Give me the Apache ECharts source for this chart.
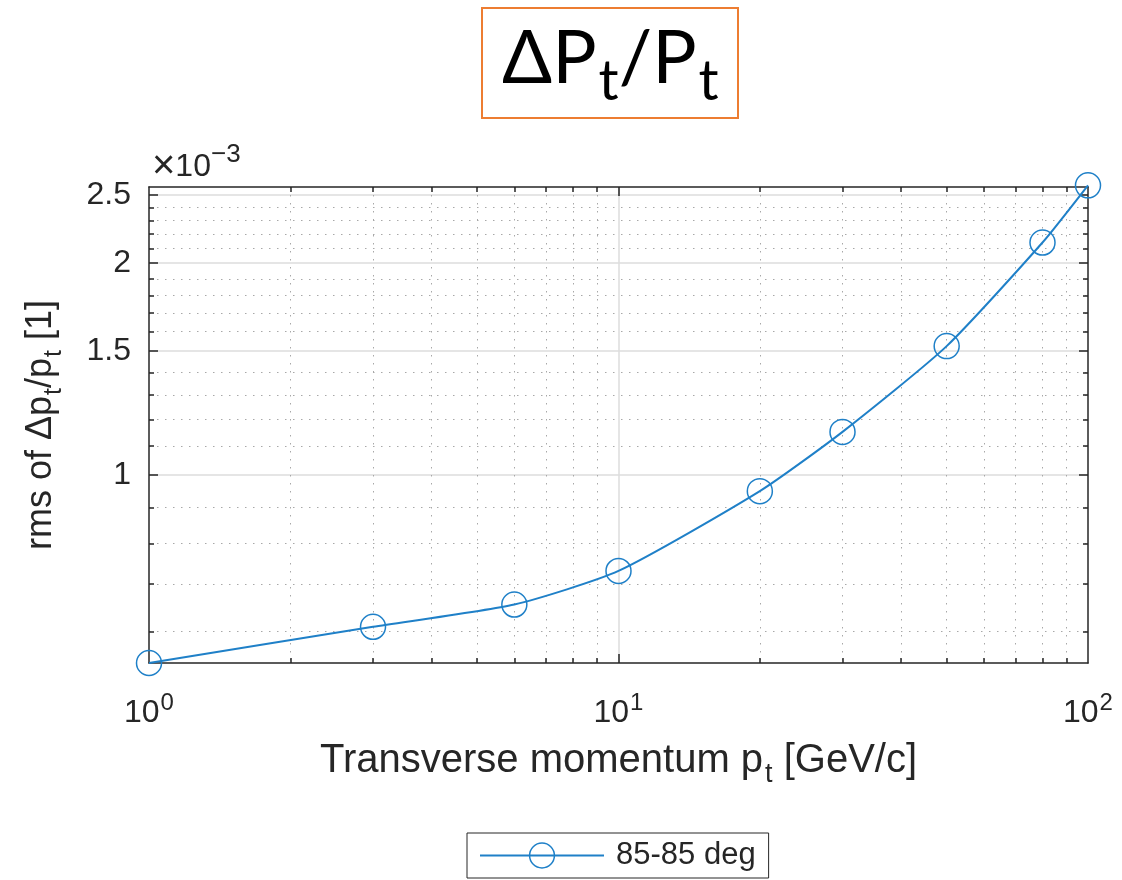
<!DOCTYPE html>
<html>
<head>
<meta charset="utf-8">
<title>dPt/Pt</title>
<script src="https://cdn.jsdelivr.net/npm/echarts@6/dist/echarts.min.js"></script>
<style>
  html, body { margin: 0; padding: 0; background: #fff; }
  #chart { width: 1122px; height: 880px; }
</style>
</head>
<body>
<div id="chart"></div>
<script>
'use strict';

// transverse momentum pt [GeV/c]
var momenta = [1, 3, 6, 10, 20, 30, 50, 80, 100];
// rms of dpt/pt, in units of 1e-3
var rmsValues = [0.541, 0.609, 0.655, 0.731, 0.949, 1.152, 1.525, 2.14, 2.58];
var seriesName = '85-85 deg';

// tick positions
var xLabelTicks = [1, 10, 100];
var xMajorTicks = [10];
var xMinorTicks = [2, 3, 4, 5, 6, 7, 8, 9, 20, 30, 40, 50, 60, 70, 80, 90];
var yMajorTicks = [1, 1.5, 2, 2.5];
var yMinorTicks = [0.6, 0.7, 0.8, 0.9, 1.1, 1.2, 1.3, 1.4, 1.6, 1.7, 1.8, 1.9, 2.1, 2.2, 2.3, 2.4];
var xRange = [1, 100];
var yRange = [0.541, 2.566];

var BLUE = '#1f80c8';
var INK = '#262626';
var FONT = '"Liberation Sans", Arial, sans-serif';
var TITLE_FONT = 'Lato, "Noto Sans", sans-serif';

var chart = echarts.init(document.getElementById('chart'));

// one log axis in the grid, used for ticks / gridlines / labels
function logAxis(position, opts) {
    var range = (position === 'left' || position === 'right') ? yRange : xRange;
    var ax = {
        type: 'log',
        logBase: 10,
        position: position,
        min: range[0],
        max: range[1],
        axisLine: { show: false, lineStyle: { color: INK, width: 1.5 } },
        axisTick: { show: false },
        axisLabel: { show: false },
        splitLine: { show: false },
        minorTick: { show: false },
        minorSplitLine: { show: false }
    };
    return echarts.util.merge(ax, opts, true);
}

function ticks(values, len) {
    return { show: true, inside: true, length: len, customValues: values,
             lineStyle: { color: INK, width: 1.5 } };
}

var majorGrid = { show: true, lineStyle: { color: '#dcdcdc', width: 1.5 } };
var minorGrid = { show: true, lineStyle: { color: '#a8a8a8', width: 1, type: [1.5, 6.5] } };

var xAxes = [
    logAxis('bottom', {
        axisLine: { show: true },
        axisTick: ticks(xMajorTicks, 9),
        splitLine: majorGrid,
        axisLabel: {
            show: true,
            customValues: xLabelTicks,
            margin: 28,
            formatter: function (v) {
                return '{b|10}{p|' + Math.round(Math.log10(v)) + '}';
            },
            rich: {
                b: { fontFamily: FONT, fontSize: 32, color: INK },
                p: { fontFamily: FONT, fontSize: 24, color: INK, padding: [0, 0, 20, 1] }
            }
        },
        name: '{a|Transverse momentum p}{s|t}{a| [GeV/c]}',
        nameLocation: 'middle',
        nameGap: 70,
        nameTextStyle: {
            rich: {
                a: { fontFamily: FONT, fontSize: 40, color: INK },
                s: { fontFamily: FONT, fontSize: 27, color: INK, padding: [28, 0, 0, 2] }
            }
        }
    }),
    logAxis('bottom', { axisTick: ticks(xMinorTicks, 5), splitLine: minorGrid }),
    logAxis('top', { axisLine: { show: true }, axisTick: ticks(xMajorTicks, 9) }),
    logAxis('top', { axisTick: ticks(xMinorTicks, 5) })
];

var yAxes = [
    logAxis('left', {
        axisLine: { show: true },
        axisTick: ticks(yMajorTicks, 9),
        splitLine: majorGrid,
        axisLabel: {
            show: true,
            customValues: yMajorTicks,
            margin: 18,
            fontFamily: FONT,
            fontSize: 32,
            color: INK,
            formatter: function (v) { return String(Math.round(v * 10) / 10); }
        },
        name: '{x|\u00d7}{a|10}{e|\u22123}',
        nameLocation: 'end',
        nameGap: -5,
        nameTextStyle: {
            align: 'left',
            verticalAlign: 'bottom',
            padding: [0, 0, 0, 3],
            rich: {
                x: { fontFamily: FONT, fontSize: 40, color: INK },
                a: { fontFamily: FONT, fontSize: 32, color: INK },
                e: { fontFamily: FONT, fontSize: 26, color: INK, padding: [0, 0, 24, 0] }
            }
        }
    }),
    logAxis('left', {
        axisTick: ticks(yMinorTicks, 5),
        splitLine: minorGrid,
        name: '{a|rms of \u0394p}{s|t}{a|/p}{s|t}{a| [1]}',
        nameLocation: 'middle',
        nameRotate: 90,
        nameGap: 82,
        nameTextStyle: {
            rich: {
                a: { fontFamily: FONT, fontSize: 36, color: INK },
                s: { fontFamily: FONT, fontSize: 25, color: INK, padding: [26, 0, 0, 1] }
            }
        }
    }),
    logAxis('right', { axisLine: { show: true }, axisTick: ticks(yMajorTicks, 9) }),
    logAxis('right', { axisTick: ticks(yMinorTicks, 5) })
];

var points = momenta.map(function (p, i) { return [p, rmsValues[i]]; });

var option = {
    backgroundColor: '#ffffff',
    animation: false,
    title: {
        text: '{a|\u0394P}{s|t}{a|/P}{s|t}',
        left: 482,
        top: 19,
        padding: [0, 20, 8, 20],
        borderColor: '#ED7D31',
        borderWidth: 2,
        textStyle: {
            fontWeight: 'normal',
            rich: {
                a: { fontFamily: TITLE_FONT, fontWeight: 'normal', fontSize: 74, color: '#000', lineHeight: 80 },
                s: { fontFamily: TITLE_FONT, fontWeight: 'normal', fontSize: 56, color: '#000', lineHeight: 60,
                     padding: [46, 0, 0, 2] }
            }
        }
    },
    legend: {
        data: [seriesName],
        bottom: 2,
        left: 467,
        itemWidth: 124,
        itemHeight: 31,
        padding: [7, 13, 7, 12],
        borderColor: INK,
        borderWidth: 1,
        itemStyle: { color: 'transparent', borderColor: BLUE, borderWidth: 1.5 },
        textStyle: { fontFamily: FONT, fontSize: 31, color: INK, padding: [0, 0, 0, 7] }
    },
    grid: {
        left: 149,
        right: 34,
        top: 187,
        bottom: 217,
        containLabel: false
    },
    xAxis: xAxes,
    yAxis: yAxes,
    series: [
        {
            name: seriesName,
            type: 'line',
            xAxisIndex: 0,
            yAxisIndex: 0,
            data: points,
            smooth: 0.2,
            clip: false,
            symbol: 'circle',
            symbolSize: 25,
            z: 10,
            lineStyle: { color: BLUE, width: 2 },
            itemStyle: { color: 'transparent', borderColor: BLUE, borderWidth: 1.5 }
        }
    ]
};

chart.setOption(option);
</script>
</body>
</html>
